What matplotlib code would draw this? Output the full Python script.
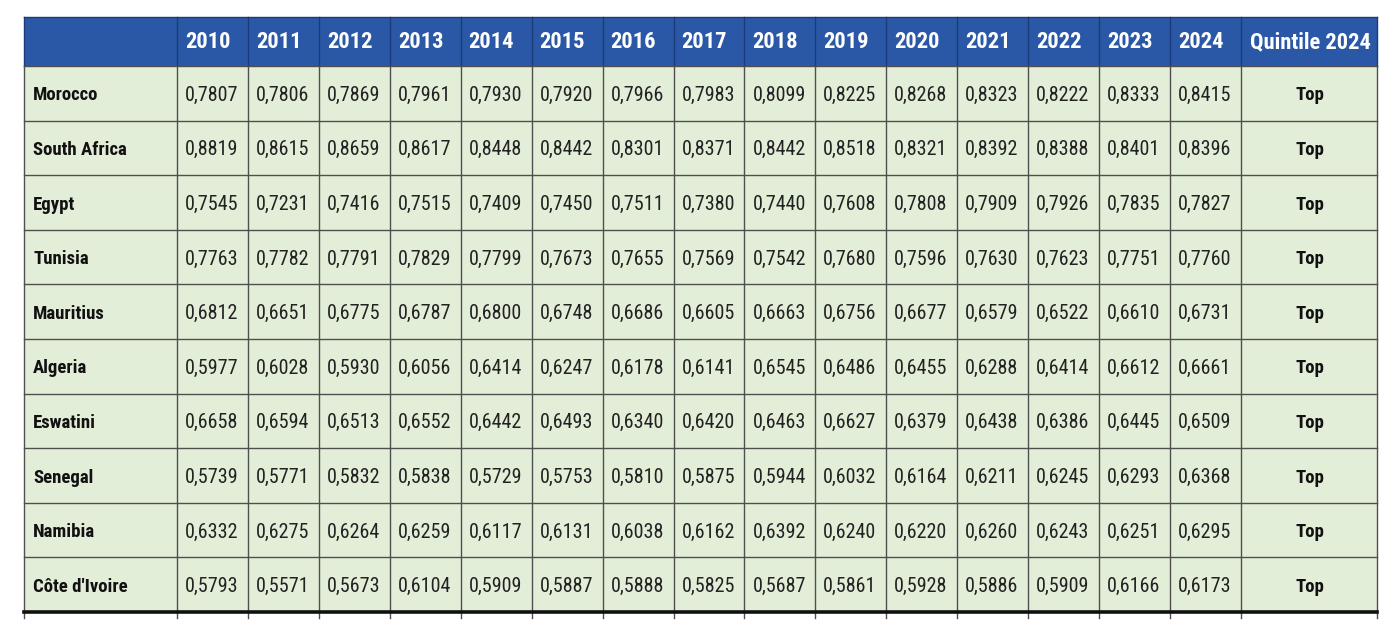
import matplotlib
matplotlib.use("Agg")
import matplotlib.pyplot as plt
from matplotlib.patches import Rectangle
from matplotlib import font_manager

years = [str(y) for y in range(2010, 2025)]
countries = ["Morocco", "South Africa", "Egypt", "Tunisia", "Mauritius",
             "Algeria", "Eswatini", "Senegal", "Namibia", "Côte d'Ivoire"]
morocco = [0.7807, 0.7806, 0.7869, 0.7961, 0.7930, 0.7920, 0.7966, 0.7983, 0.8099, 0.8225, 0.8268, 0.8323, 0.8222, 0.8333, 0.8415]
south_africa = [0.8819, 0.8615, 0.8659, 0.8617, 0.8448, 0.8442, 0.8301, 0.8371, 0.8442, 0.8518, 0.8321, 0.8392, 0.8388, 0.8401, 0.8396]
egypt = [0.7545, 0.7231, 0.7416, 0.7515, 0.7409, 0.7450, 0.7511, 0.7380, 0.7440, 0.7608, 0.7808, 0.7909, 0.7926, 0.7835, 0.7827]
tunisia = [0.7763, 0.7782, 0.7791, 0.7829, 0.7799, 0.7673, 0.7655, 0.7569, 0.7542, 0.7680, 0.7596, 0.7630, 0.7623, 0.7751, 0.7760]
mauritius = [0.6812, 0.6651, 0.6775, 0.6787, 0.6800, 0.6748, 0.6686, 0.6605, 0.6663, 0.6756, 0.6677, 0.6579, 0.6522, 0.6610, 0.6731]
algeria = [0.5977, 0.6028, 0.5930, 0.6056, 0.6414, 0.6247, 0.6178, 0.6141, 0.6545, 0.6486, 0.6455, 0.6288, 0.6414, 0.6612, 0.6661]
eswatini = [0.6658, 0.6594, 0.6513, 0.6552, 0.6442, 0.6493, 0.6340, 0.6420, 0.6463, 0.6627, 0.6379, 0.6438, 0.6386, 0.6445, 0.6509]
senegal = [0.5739, 0.5771, 0.5832, 0.5838, 0.5729, 0.5753, 0.5810, 0.5875, 0.5944, 0.6032, 0.6164, 0.6211, 0.6245, 0.6293, 0.6368]
namibia = [0.6332, 0.6275, 0.6264, 0.6259, 0.6117, 0.6131, 0.6038, 0.6162, 0.6392, 0.6240, 0.6220, 0.6260, 0.6243, 0.6251, 0.6295]
cote_divoire = [0.5793, 0.5571, 0.5673, 0.6104, 0.5909, 0.5887, 0.5888, 0.5825, 0.5687, 0.5861, 0.5928, 0.5886, 0.5909, 0.6166, 0.6173]
quintile = ["Top"] * 10
quintile_header = "Quintile 2024"

values = [morocco, south_africa, egypt, tunisia, mauritius, algeria,
          eswatini, senegal, namibia, cote_divoire]

avail = {f.name for f in font_manager.fontManager.ttflist}
narrow = "Liberation Sans"
for cand in ["Roboto Condensed", "Archivo Narrow", "PT Sans Narrow",
             "IBM Plex Sans Condensed", "Liberation Sans Narrow", "Open Sans Condensed"]:
    if cand in avail:
        narrow = cand
        break
fam = [narrow, "DejaVu Sans"]

W, H = 1398, 630
fig = plt.figure(figsize=(W / 100, H / 100), dpi=100)
ax = fig.add_axes([0, 0, 1, 1])
ax.set_xlim(0, W)
ax.set_ylim(H, 0)
ax.axis("off")

header_blue = "#2B58A6"
cell_green = "#E3EED9"
line_col = "#4F4F4F"
head_line = "#1B3A78"

left = 24
first_w = 177 - 24
col_w = 70.93
quint_w = 1377 - (177 + col_w * 15)
top = 17
head_h = 49
row_h = 54.6

xs = [left, left + first_w]
for i in range(15):
    xs.append(xs[-1] + col_w)
xs.append(xs[-1] + quint_w)
right = xs[-1]
ys = [top, top + head_h]
for i in range(len(countries)):
    ys.append(ys[-1] + row_h)
bottom = ys[-1]

ax.add_patch(Rectangle((left, top), right - left, head_h, facecolor=header_blue,
                       edgecolor="none", zorder=1))
ax.add_patch(Rectangle((left, ys[1]), right - left, bottom - ys[1], facecolor=cell_green,
                       edgecolor="none", zorder=1))

for x in xs:
    ax.plot([x, x], [top, ys[1]], color=head_line, lw=1.0, zorder=2)
    ax.plot([x, x], [ys[1], bottom + 6], color=line_col, lw=1.0, zorder=2)
for y in ys[1:-1]:
    ax.plot([left, right], [y, y], color=line_col, lw=1.0, zorder=2)
ax.plot([left, right], [top, top], color=head_line, lw=1.0, zorder=2)
ax.plot([left, right], [bottom, bottom], color="#111111", lw=2.6, zorder=3)

for i, yr in enumerate(years):
    ax.text(xs[i + 1] + 8, (ys[0] + ys[1]) / 2 + 1, yr, color="white", fontsize=16.2,
            fontweight="bold", family=fam, ha="left", va="center", zorder=4)
ax.text((xs[-2] + xs[-1]) / 2 + 1, (ys[0] + ys[1]) / 2 + 1, quintile_header, color="white",
        fontsize=16.2, fontweight="bold", family=fam, ha="center", va="center", zorder=4)

for r, (c, vals) in enumerate(zip(countries, values)):
    yc = (ys[r + 1] + ys[r + 2]) / 2 + 2
    ax.text(left + 9, yc, c, fontsize=13.5, fontweight="bold", family=fam,
            ha="left", va="center", color="#111111", zorder=4)
    for i, v in enumerate(vals):
        ax.text(xs[i + 1] + 8, yc, f"{v:.4f}".replace(".", ","), fontsize=14.5,
                family=fam, ha="left", va="center", color="#222222", zorder=4)
    ax.text((xs[-2] + xs[-1]) / 2 + 1, yc, quintile[r], fontsize=13.5, fontweight="bold",
            family=fam, ha="center", va="center", color="#111111", zorder=4)

fig.savefig("out.png", dpi=100, facecolor="white")
